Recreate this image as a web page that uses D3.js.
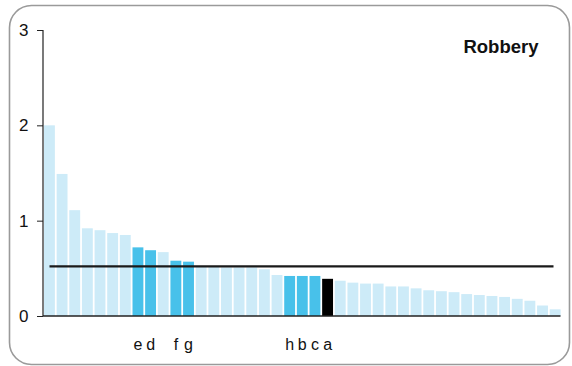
<!DOCTYPE html>
<html>
<head>
<meta charset="utf-8">
<script src="https://cdn.jsdelivr.net/npm/d3@7"></script>
<style>
  html, body { margin: 0; padding: 0; background: #fff; }
  svg { display: block; font-family: "Liberation Sans", Arial, sans-serif; }
</style>
</head>
<body>
<svg id="chart" width="572" height="366"></svg>
<script>
// Data
const values = [2.00, 1.49, 1.11, 0.92, 0.90, 0.87, 0.85, 0.72, 0.69, 0.67,
                0.58, 0.57, 0.52, 0.52, 0.51, 0.51, 0.51, 0.49, 0.43, 0.42,
                0.42, 0.42, 0.39, 0.37, 0.35, 0.34, 0.34, 0.31, 0.31, 0.29,
                0.27, 0.26, 0.25, 0.23, 0.22, 0.21, 0.20, 0.18, 0.16, 0.11, 0.07];
const labels = ["", "", "", "", "", "", "", "e", "d", "",
                "f", "g", "", "", "", "", "", "", "", "h",
                "b", "c", "a", "", "", "", "", "", "", "",
                "", "", "", "", "", "", "", "", "", "", ""];
// highlight kind: 0 light, 1 highlighted, 2 selected
const kinds = [0,0,0,0,0,0,0,1,1,0,
               1,1,0,0,0,0,0,0,0,1,
               1,1,2,0,0,0,0,0,0,0,
               0,0,0,0,0,0,0,0,0,0,0];
const meanValue = 0.52;
const yTicks = [0, 1, 2, 3];
const title = "Robbery";

const svg = d3.select("#chart");
const colors = ["#cdebf8", "#48c1ea", "#000000"];

// frame
svg.append("rect")
  .attr("x", 9.5).attr("y", 5.5).attr("width", 560).attr("height", 359)
  .attr("rx", 22).attr("ry", 22)
  .attr("fill", "none").attr("stroke", "#9a9a9a").attr("stroke-width", 1.6);

const x = d3.scaleBand().domain(d3.range(values.length))
  .range([44, 560.6]).paddingInner(0.14).paddingOuter(0);
const y = d3.scaleLinear().domain([0, 3]).range([316, 30]);

// bars
svg.append("g").selectAll("rect").data(values).join("rect")
  .attr("x", (d, i) => x(i))
  .attr("width", x.bandwidth())
  .attr("y", d => y(d))
  .attr("height", d => y(0) - y(d))
  .attr("fill", (d, i) => colors[kinds[i]]);

// y axis
const yAxis = d3.axisLeft(y).tickValues(yTicks).tickSize(6).tickPadding(8.5).tickFormat(d3.format("d"));
const ga = svg.append("g").attr("transform", "translate(43,0)").call(yAxis);
ga.select(".domain").attr("stroke", "#222").attr("stroke-width", 1.2).attr("d", "M-6,30.5H0V316");
ga.selectAll(".tick line").attr("stroke", "#222");
ga.selectAll(".tick text").attr("font-size", 17).attr("fill", "#111")
  .attr("font-family", "Liberation Sans, Arial, sans-serif");

// baseline
svg.append("line")
  .attr("x1", 43).attr("x2", 560.5).attr("y1", y(0)).attr("y2", y(0))
  .attr("stroke", "#222").attr("stroke-width", 1.5);

// mean line
svg.append("line")
  .attr("x1", 49.5).attr("x2", 553.5).attr("y1", y(meanValue)).attr("y2", y(meanValue))
  .attr("stroke", "#1a1a1a").attr("stroke-width", 2.2);

// category labels
svg.append("g").selectAll("text").data(labels).join("text")
  .attr("x", (d, i) => x(i) + x.bandwidth() / 2)
  .attr("y", 350)
  .attr("text-anchor", "middle")
  .attr("font-size", 16)
  .attr("fill", "#111")
  .text(d => d);

// title
svg.append("text")
  .attr("x", 538.5).attr("y", 53)
  .attr("text-anchor", "end")
  .attr("font-size", 18.5)
  .attr("font-weight", "bold")
  .attr("fill", "#111")
  .text(title);
</script>
</body>
</html>
